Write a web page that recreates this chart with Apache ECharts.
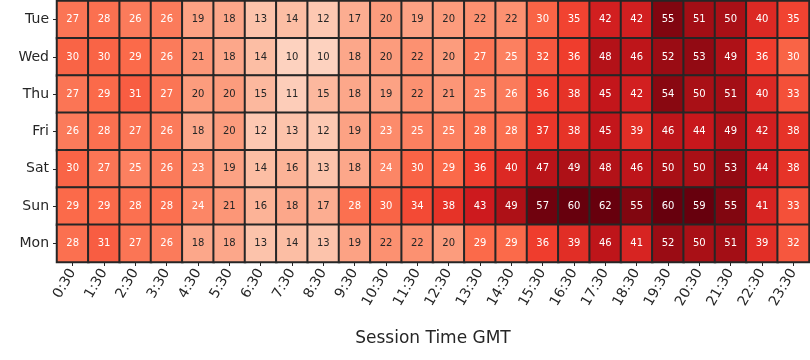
<!DOCTYPE html>
<html><head><meta charset="utf-8">
<script src="https://cdn.jsdelivr.net/npm/echarts@6/dist/echarts.min.js"></script>
<style>html,body{margin:0;padding:0;background:#fff}#c{width:810px;height:360px}</style>
</head><body><div id="c"></div>
<script>
const days = ["Tue","Wed","Thu","Fri","Sat","Sun","Mon"];
const times = ["0:30","1:30","2:30","3:30","4:30","5:30","6:30","7:30","8:30","9:30","10:30","11:30","12:30","13:30","14:30","15:30","16:30","17:30","18:30","19:30","20:30","21:30","22:30","23:30"];
const tue = [27,28,26,26,19,18,13,14,12,17,20,19,20,22,22,30,35,42,42,55,51,50,40,35];
const wed = [30,30,29,26,21,18,14,10,10,18,20,22,20,27,25,32,36,48,46,52,53,49,36,30];
const thu = [27,29,31,27,20,20,15,11,15,18,19,22,21,25,26,36,38,45,42,54,50,51,40,33];
const fri = [26,28,27,26,18,20,12,13,12,19,23,25,25,28,28,37,38,45,39,46,44,49,42,38];
const sat = [30,27,25,26,23,19,14,16,13,18,24,30,29,36,40,47,49,48,46,50,50,53,44,38];
const sun = [29,29,28,28,24,21,16,18,17,28,30,34,38,43,49,57,60,62,55,60,59,55,41,33];
const mon = [28,31,27,26,18,18,13,14,13,19,22,22,20,29,29,36,39,46,41,52,50,51,39,32];
const rows = [tue,wed,thu,fri,sat,sun,mon];

const reds = ['#fff5f0','#fee0d2','#fcbba1','#fc9272','#fb6a4a','#ef3b2c','#cb181d','#a50f15','#67000d'];
const data = [];
rows.forEach((r, yi) => r.forEach((v, xi) => {
  data.push({value:[xi, yi, v], label:{color: v >= 23 ? '#ffffff' : '#262626'}});
}));

const chart = echarts.init(document.getElementById('c'));
chart.setOption({
  animation:false,
  textStyle:{fontFamily:'DejaVu Sans'},
  grid:{left:57, right:1, top:1, bottom:98},
  xAxis:{type:'category', data:times, name:'Session Time GMT', nameLocation:'middle', nameGap:68,
    nameTextStyle:{fontSize:17, color:'#262626', fontFamily:'DejaVu Sans'},
    axisLine:{show:false}, axisTick:{show:true, alignWithLabel:true, length:4, lineStyle:{color:'#262626'}},
    axisLabel:{rotate:60, fontSize:14, color:'#262626', margin:8, interval:0}, splitArea:{show:false}},
  yAxis:{type:'category', data:days, inverse:true,
    axisLine:{show:false}, axisTick:{show:true, alignWithLabel:true, length:4, lineStyle:{color:'#262626'}},
    axisLabel:{fontSize:14, color:'#262626', margin:8, interval:0}},
  visualMap:{show:false, min:0, max:58, dimension:2, inRange:{color:reds}},
  series:[{type:'heatmap', data:data,
    label:{show:true, fontSize:10, fontFamily:'DejaVu Sans'},
    itemStyle:{borderColor:'#262626', borderWidth:2},
    emphasis:{disabled:true}}]
});
</script></body></html>
